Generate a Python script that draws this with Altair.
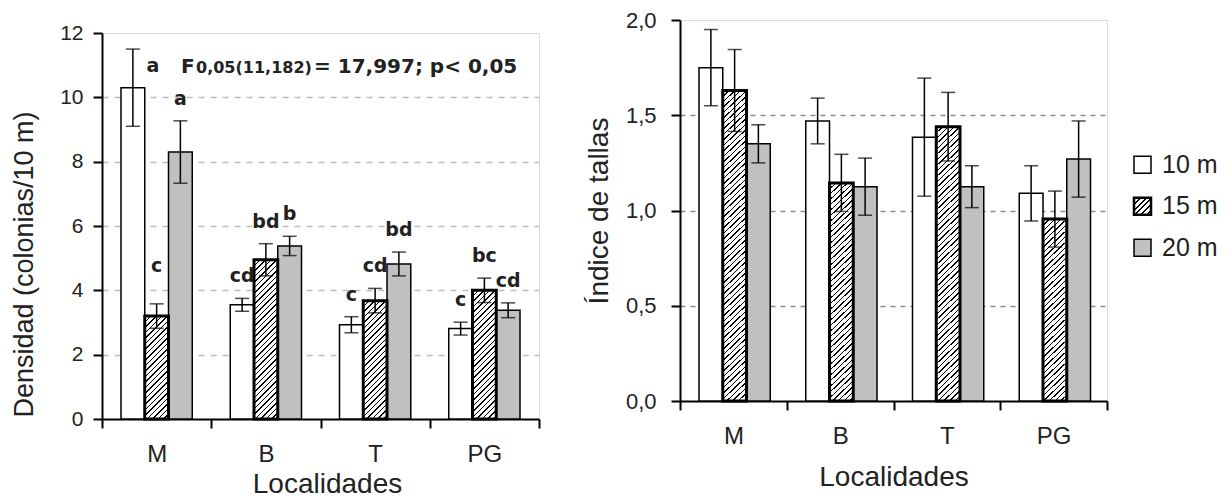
import altair as alt
import pandas as pd

# ---------------- data ----------------
localidades = ["M", "B", "T", "PG"]
profundidades = ["10 m", "15 m", "20 m"]

dens_10 = [10.3, 3.55, 2.93, 2.81]
dens_15 = [3.2, 4.95, 3.68, 4.0]
dens_20 = [8.3, 5.38, 4.82, 3.38]
dens_err_10 = [1.2, 0.2, 0.25, 0.2]
dens_err_15 = [0.38, 0.5, 0.38, 0.38]
dens_err_20 = [0.97, 0.3, 0.37, 0.23]
letras_10 = ["a", "cd", "c", "c"]
letras_15 = ["c", "bd", "cd", "bc"]
letras_20 = ["a", "b", "bd", "cd"]

talla_10 = [1.75, 1.47, 1.385, 1.09]
talla_15 = [1.63, 1.145, 1.44, 0.955]
talla_20 = [1.35, 1.125, 1.125, 1.27]
talla_err_10 = [0.2, 0.12, 0.31, 0.145]
talla_err_15 = [0.215, 0.15, 0.18, 0.147]
talla_err_20 = [0.1, 0.15, 0.11, 0.2]

dens_ticks = [0, 2, 4, 6, 8, 10, 12]
talla_ticks = [0, 0.5, 1.0, 1.5, 2.0]

titulo_izq_y = "Densidad (colonias/10 m)"
titulo_der_y = "Índice de tallas"
titulo_x = "Localidades"
anova = ["F", "0,05(11,182)", "= 17,997; p< 0,05"]

# ---------------- style ----------------
FONT = "Liberation Sans"
BFONT = "DejaVu Sans"
TXT = "#222222"
GRAY = "#c0c0c0"


def build(means, errs, letters=None):
    rows = []
    for j, prof in enumerate(profundidades):
        for i, loc in enumerate(localidades):
            m, e = means[j][i], errs[j][i]
            rows.append(dict(loc=loc, prof=prof, mean=m, err=e, lo=m - e, hi=m + e,
                             letra=letters[j][i] if letters else "", idx=f"{loc}|{prof}"))
    return pd.DataFrame(rows)


df_dens = build([dens_10, dens_15, dens_20], [dens_err_10, dens_err_15, dens_err_20],
                [letras_10, letras_15, letras_20])
df_talla = build([talla_10, talla_15, talla_20], [talla_err_10, talla_err_15, talla_err_20])


def hatch(w, h, period=5.5, frac=0.26):
    total = w + h
    stops = []
    c = 0.0
    while c < total:
        o1 = c / total
        o2 = min((c + frac * period) / total, 1.0)
        o3 = min((c + period) / total, 1.0)
        stops += [(o1, "black"), (o2, "black"), (o2, "white"), (o3, "white")]
        c += period
    k = total / (w * w + h * h)
    return alt.LinearGradient(
        gradient="linear",
        stops=[alt.GradientStop(color=col, offset=o) for o, col in stops],
        x1=0, y1=0, x2=k * w, y2=k * h,
    )


def panel(df, W, H, ymax, ticks, pad_outer, y_title, label_expr, y_label_size,
          y_label_pad, y_title_pad, y_title_size, grid_color, grid_dash,
          x_title_pad, letters=False, title_y=None, title_x=None):
    ppu = H / ymax
    step = W / len(localidades)
    bw = step / (3 + 2 * pad_outer)

    xaxis_kw = dict(title=titulo_x, labelAngle=0, tickBand="extent",
                    tickSize=9, tickWidth=2, tickColor="black",
                    domainColor="black", domainWidth=2,
                    labelFont=FONT, labelFontSize=24, labelColor=TXT, labelPadding=14,
                    titleFont=FONT, titleFontSize=28, titleFontWeight="normal",
                    titleColor=TXT, titlePadding=x_title_pad, grid=False)
    if title_x is not None:
        xaxis_kw["titleX"] = title_x
    x = alt.X("loc:N", sort=localidades,
              scale=alt.Scale(paddingInner=0, paddingOuter=0),
              axis=alt.Axis(**xaxis_kw))
    xo = alt.XOffset("prof:N", sort=profundidades,
                     scale=alt.Scale(paddingInner=0, paddingOuter=pad_outer))
    yaxis_kw = dict(values=ticks, title=y_title, labelExpr=label_expr,
                    grid=True, gridDash=grid_dash, gridColor=grid_color, gridWidth=1.5,
                    gridOpacity={"condition": {"test": f"datum.value >= {ymax} || datum.value <= 0",
                                               "value": 0}, "value": 1},
                    tickSize=9, tickWidth=2, tickColor="black",
                    domainColor="black", domainWidth=2,
                    labelFont=FONT, labelFontSize=y_label_size, labelColor=TXT,
                    labelPadding=y_label_pad,
                    titleFont=FONT, titleFontSize=y_title_size, titleFontWeight="normal",
                    titleColor=TXT, titlePadding=y_title_pad)
    if title_y is not None:
        yaxis_kw["titleY"] = title_y
    yaxis = alt.Axis(**yaxis_kw)
    yscale = alt.Scale(domain=[0, ymax], nice=False, zero=True)

    def Y(field):
        return alt.Y(f"{field}:Q", scale=yscale, axis=yaxis)

    base = alt.Chart(df).encode(x=x, xOffset=xo)

    plain = base.transform_filter(alt.datum.prof != "15 m").mark_bar(
        stroke="black", strokeWidth=1.5).encode(
        y=Y("mean"),
        fill=alt.Fill("prof:N", scale=alt.Scale(domain=["10 m", "20 m"], range=["white", GRAY]),
                      legend=None))

    layers = [plain]
    sub = df[df.prof == "15 m"]
    for _, r in sub.iterrows():
        g = hatch(bw, r["mean"] * ppu)
        layers.append(
            base.transform_filter(alt.datum.idx == r["idx"]).mark_bar(
                fill=g, stroke="black", strokeWidth=3).encode(y=Y("mean")))

    layers.append(base.mark_rule(color="black", strokeWidth=1.5).encode(
        y=Y("lo"), y2="hi:Q"))
    layers.append(base.mark_tick(color="black", thickness=1.5, size=14).encode(y=Y("lo")))
    layers.append(base.mark_tick(color="black", thickness=1.5, size=14).encode(y=Y("hi")))

    if letters:
        txt = dict(font=BFONT, fontWeight="bold", fontSize=19, color=TXT, baseline="middle")
        normal = base.transform_filter(
            (alt.datum.idx != "M|10 m") & (alt.datum.idx != "M|15 m")
        ).mark_text(dy=-22, **txt).encode(y=Y("hi"), text="letra:N")
        m15 = base.transform_filter(alt.datum.idx == "M|15 m").mark_text(
            dy=-38, **txt).encode(y=Y("hi"), text="letra:N")
        m10 = base.transform_filter(alt.datum.idx == "M|10 m").mark_text(
            dx=20, dy=17, **txt).encode(y=Y("hi"), text="letra:N")
        layers += [normal, m15, m10]

        ann = pd.DataFrame({"t": anova})
        a1 = alt.Chart(ann).transform_filter(alt.datum.t == anova[0]).mark_text(
            font=BFONT, fontWeight="bold", fontSize=20, color=TXT, align="left",
            baseline="alphabetic").encode(x=alt.value(79), y=alt.value(40), text="t:N")
        a2 = alt.Chart(ann).transform_filter(alt.datum.t == anova[1]).mark_text(
            font=BFONT, fontWeight="bold", fontSize=16, color=TXT, align="left",
            baseline="alphabetic").encode(x=alt.value(94), y=alt.value(40), text="t:N")
        a3 = alt.Chart(ann).transform_filter(alt.datum.t == anova[2]).mark_text(
            font=BFONT, fontWeight="bold", fontSize=20, color=TXT, align="left",
            baseline="alphabetic").encode(x=alt.value(212), y=alt.value(40), text="t:N")
        layers += [a1, a2, a3]

    return alt.layer(*layers).properties(width=W, height=H)


left = panel(df_dens, 437, 386, 12, dens_ticks, 0.8, titulo_izq_y,
             "format(datum.value, 'd')", 21, 10, 21, 27, "#bdbdbd", [6, 6], 4,
             letters=True, title_y=231, title_x=225)
right = panel(df_talla, 427, 381, 2, talla_ticks, 0.85, titulo_der_y,
              "replace(format(datum.value, '.1f'), '.', ',')", 22, 15, 12, 28,
              "#8c8c8c", [5, 5], 15)

# spacer that pushes the left panel down
spacer = alt.Chart(pd.DataFrame({"s": [0]})).mark_rule(opacity=0).encode(
    x=alt.value(0), x2=alt.value(1), y=alt.value(0)
).properties(width=437, height=1, view=alt.ViewBackground(strokeOpacity=0))

left_col = alt.vconcat(spacer, left, spacing=0)

# ---------------- legend panel ----------------
df_leg = pd.DataFrame({"prof": profundidades})
ly = alt.Y("prof:N", sort=profundidades, axis=None,
           scale=alt.Scale(paddingInner=0, paddingOuter=0, range=[124, 248.5]))
lbase = alt.Chart(df_leg).encode(y=ly)
leg_layers = []
for prof, fill in [("10 m", "white"), ("15 m", None), ("20 m", GRAY)]:
    if fill is None:
        f = alt.LinearGradient(
            gradient="linear",
            stops=[alt.GradientStop(color=c, offset=o) for o, c in
                   [(o, c) for k in range(6) for (o, c) in
                    [(k / 6, "black"), (min(k / 6 + 0.06, 1), "black"),
                     (min(k / 6 + 0.06, 1), "white"), (min((k + 1) / 6, 1), "white")]]],
            x1=0, y1=0, x2=1, y2=1)
        sw = 2.5
    else:
        f = fill
        sw = 1.5
    leg_layers.append(lbase.transform_filter(alt.datum.prof == prof).mark_point(
        shape="square", size=289, filled=True, fill=f, stroke="black", strokeWidth=sw,
        opacity=1).encode(x=alt.value(17.5)))
leg_layers.append(lbase.mark_text(font=FONT, fontSize=25, color=TXT, align="left",
                                  baseline="middle").encode(x=alt.value(37), text="prof:N"))
legend = alt.layer(*leg_layers).properties(
    width=95, height=381, view=alt.ViewBackground(strokeOpacity=0))

chart = alt.hconcat(
    left_col,
    alt.hconcat(right, legend, spacing=16),
    spacing=43,
).properties(padding={"left": 2, "top": 0, "right": 0, "bottom": 0}).configure_view(
    stroke="black", strokeWidth=2).configure(background="white")

chart.save("out.html", embed_options={"renderer": "svg", "actions": False})
